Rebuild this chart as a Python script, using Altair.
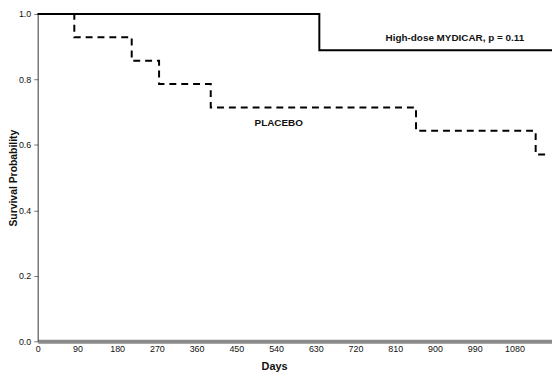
import altair as alt
import pandas as pd

# Kaplan-Meier steps
treat_days = [0, 638, 1165]
treat_surv = [1.0, 0.889, 0.889]
placebo_days = [0, 83, 213, 275, 392, 857, 1128, 1150]
placebo_surv = [1.0, 0.929, 0.857, 0.786, 0.714, 0.643, 0.571, 0.571]

label_text = ["High-dose MYDICAR, p = 0.11", "PLACEBO"]
label_days = [945, 546]
label_surv = [0.925, 0.668]

x_ticks = [0, 90, 180, 270, 360, 450, 540, 630, 720, 810, 900, 990, 1080]
y_ticks = [0.0, 0.2, 0.4, 0.6, 0.8, 1.0]

treat = pd.DataFrame({"day": treat_days, "surv": treat_surv})
placebo = pd.DataFrame({"day": placebo_days, "surv": placebo_surv})
labels = pd.DataFrame({"text": label_text, "day": label_days, "surv": label_surv})

FONT = "Liberation Sans"

x_enc = alt.X("day:Q", scale=alt.Scale(domain=[0, 1165], nice=False, zero=False),
              axis=alt.Axis(values=x_ticks, format="d", title="Days", grid=False,
                            domainColor="#8a8a8a", domainWidth=4, ticks=False,
                            labelPadding=3, labelFont=FONT, labelFontSize=9,
                            labelColor="#111", titleFont=FONT, titleFontSize=11,
                            titleFontWeight="bold", titleColor="#111",
                            titleX=239, titleY=19, titleAlign="center",
                            titleBaseline="top", labelFlush=False))
y_enc = alt.Y("surv:Q", scale=alt.Scale(domain=[0, 1], nice=False),
              axis=alt.Axis(values=y_ticks, format=".1f", title="Survival Probability",
                            grid=False, domainColor="#333", domainWidth=1,
                            tickColor="#777", tickSize=4, labelPadding=3,
                            labelFont=FONT, labelFontSize=9, labelColor="#111",
                            titleFont=FONT, titleFontSize=10.5, titleFontWeight="bold",
                            titleColor="#111", titleX=-24, titleBaseline="middle",
                            titleAngle=270))

treat_line = alt.Chart(treat).mark_line(
    interpolate="step-after", color="black", strokeWidth=2
).encode(x=x_enc, y=y_enc)

placebo_line = alt.Chart(placebo).mark_line(
    interpolate="step-after", color="black", strokeWidth=2, strokeDash=[7, 5]
).encode(x="day:Q", y="surv:Q")

text = alt.Chart(labels).mark_text(
    font=FONT, fontSize=10, fontWeight="bold", color="#111", align="center", baseline="middle"
).encode(x="day:Q", y="surv:Q", text="text:N")

chart = alt.layer(placebo_line, treat_line, text).properties(
    width=520, height=331,
    autosize=alt.AutoSizeParams(type="none"),
    padding={"left": 30, "top": 4, "right": 0, "bottom": 30},
).configure_view(stroke=None)

chart.save("out.html", embed_options={"renderer": "svg", "actions": False})
